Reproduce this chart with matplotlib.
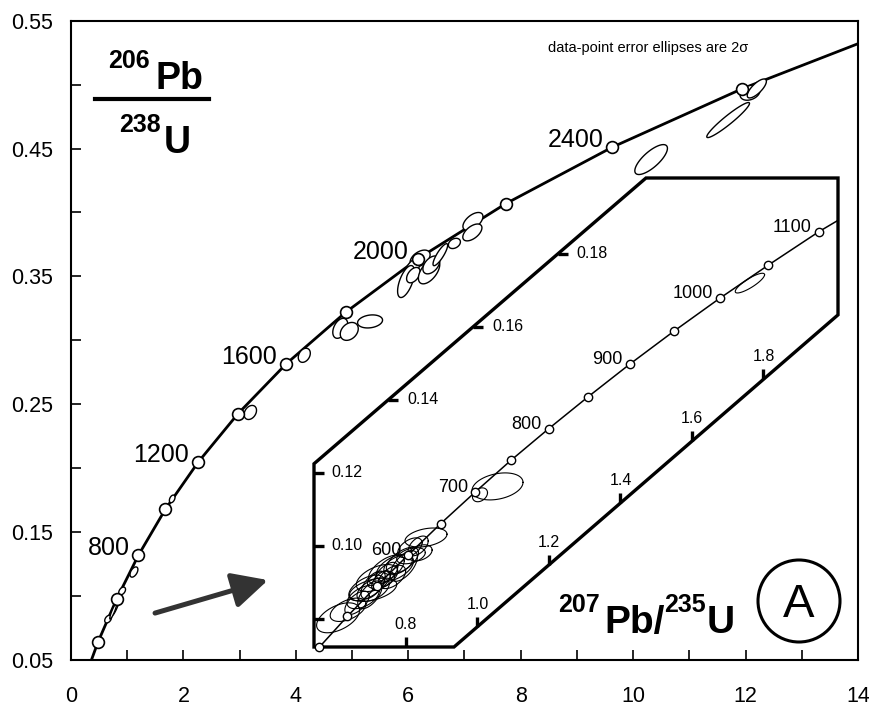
import matplotlib.pyplot as plt
import numpy as np
from matplotlib.lines import Line2D
from matplotlib.patches import Polygon, Ellipse

plt.rcParams['font.family'] = ['Liberation Sans', 'DejaVu Sans']

# ---- main panel: concordia (207Pb/235U, 206Pb/238U)
conc_x = [0.33, 0.48, 0.81, 1.20, 1.68, 2.26, 2.97, 3.83, 4.89, 6.17, 7.73, 9.63, 11.94, 14.0]
conc_y = [0.046, 0.064, 0.0975, 0.132, 0.168, 0.2046, 0.2426, 0.2817, 0.3221, 0.3638, 0.4068, 0.4511, 0.4968, 0.532]

# age markers every 200 Ma
mark_age = [400, 600, 800, 1000, 1200, 1400, 1600, 1800, 2000, 2200, 2400, 2600]
mark_x = [0.48, 0.81, 1.20, 1.68, 2.26, 2.97, 3.83, 4.89, 6.17, 7.73, 9.63, 11.94]
mark_y = [0.064, 0.0975, 0.132, 0.168, 0.2046, 0.2426, 0.2817, 0.3221, 0.3638, 0.4068, 0.4511, 0.4968]
label_ages = [800, 1200, 1600, 2000, 2400]

# 2 sigma error ellipses: centre, half-width, half-height, correlation
ell_x = [4.15, 4.79, 4.95, 5.32, 6.21, 6.07, 5.96, 6.09, 6.37, 6.41, 6.57, 6.82,
         7.15, 7.14, 10.32, 12.08, 12.20, 11.69, 1.12, 0.91, 0.66, 0.80, 0.75, 3.19, 1.80]
ell_y = [0.2883, 0.3094, 0.3070, 0.3148, 0.3640, 0.3560, 0.3460, 0.3510, 0.3540, 0.3590, 0.3670, 0.3758,
         0.3930, 0.3844, 0.4414, 0.4937, 0.4970, 0.4723, 0.1188, 0.1040, 0.0820, 0.0920, 0.0880, 0.2436, 0.1760]
ell_sx = [0.107, 0.133, 0.160, 0.222, 0.178, 0.133, 0.150, 0.120, 0.190, 0.150, 0.130, 0.107,
          0.178, 0.170, 0.290, 0.178, 0.170, 0.380, 0.070, 0.060, 0.060, 0.070, 0.060, 0.110, 0.050]
ell_sy = [0.0055, 0.0078, 0.0070, 0.0051, 0.0066, 0.0078, 0.0125, 0.0060, 0.0098, 0.0070, 0.0086, 0.0040,
          0.0070, 0.0066, 0.0117, 0.0059, 0.0074, 0.0137, 0.0040, 0.0030, 0.0030, 0.0070, 0.0060, 0.0055, 0.0030]
ell_rho = [0.3, 0.4, 0.3, 0.2, 0.45, 0.55, 0.6, 0.45, 0.55, 0.45, 0.85, 0.3,
           0.55, 0.55, 0.75, 0.3, 0.75, 0.95, 0.5, 0.4, 0.4, 0.9, 0.9, 0.3, 0.4]

# ---- inset: enlarged 450-1100 Ma part, markers every 50 Ma
in_age = [450, 500, 550, 600, 650, 700, 750, 800, 850, 900, 950, 1000, 1050, 1100]
in_x = [0.558, 0.636, 0.719, 0.806, 0.897, 0.993, 1.093, 1.199, 1.310, 1.426, 1.549, 1.677, 1.813, 1.955]
in_y = [0.0723, 0.0807, 0.0891, 0.0975, 0.1061, 0.1147, 0.1234, 0.1321, 0.1409, 0.1498, 0.1588, 0.1678, 0.1769, 0.1861]
in_end_x = 2.005
in_end_y = 0.189
in_label_ages = [600, 700, 800, 900, 1000, 1100]

in_ell_x = [1.056, 1.007, 0.856, 0.834, 0.839, 0.794, 0.769, 0.719, 0.708, 0.708, 0.680, 0.663,
            0.730, 0.761, 0.778, 0.814, 0.699, 0.708, 0.610, 0.638, 0.811, 0.730, 0.745, 1.762,
            0.745, 0.690, 0.790]
in_ell_y = [0.1163, 0.1140, 0.1023, 0.1000, 0.0981, 0.0945, 0.0940, 0.0912, 0.0893, 0.0880, 0.0860, 0.0844,
            0.0907, 0.0915, 0.0948, 0.0973, 0.0866, 0.0880, 0.0803, 0.0825, 0.0995, 0.0905, 0.0925, 0.1720,
            0.0935, 0.0885, 0.0960]
in_ell_sx = [0.0713, 0.021, 0.0587, 0.028, 0.034, 0.038, 0.052, 0.058, 0.034, 0.045, 0.045, 0.034,
             0.038, 0.038, 0.040, 0.040, 0.034, 0.066, 0.060, 0.050, 0.034, 0.026, 0.032, 0.041,
             0.050, 0.050, 0.045]
in_ell_sy = [0.0037, 0.0019, 0.0026, 0.0027, 0.0022, 0.0042, 0.0037, 0.0037, 0.0038, 0.0032, 0.0032, 0.0032,
             0.0024, 0.0032, 0.0027, 0.0022, 0.0038, 0.0032, 0.0041, 0.0032, 0.0027, 0.0027, 0.0030, 0.0027,
             0.0040, 0.0035, 0.0036]
in_ell_rho = [0.3, 0.3, 0.35, 0.5, 0.35, 0.6, 0.5, 0.5, 0.6, 0.5, 0.5, 0.6,
              0.4, 0.5, 0.5, 0.4, 0.6, 0.45, 0.5, 0.5, 0.5, 0.6, 0.6, 0.85,
              0.6, 0.55, 0.6]

# inset frame (hexagon) and tick values
hex_x = [0.5427, 0.5427, 1.4713, 2.0084, 2.0084, 0.9343]
hex_y = [0.0723, 0.1225, 0.2008, 0.2008, 0.1633, 0.0723]
in_left_ticks = [0.08, 0.10, 0.12]
in_left_labels = ['', '0.10', '0.12']
in_diag_yticks = [0.14, 0.16, 0.18]
in_bottom_ticks = [0.8]
in_diag_xticks = [1.0, 1.2, 1.4, 1.6, 1.8]


def ellipse_xy(x, y, sx, sy, rho):
    t = np.linspace(0, 2 * np.pi, 120)
    ex = x + sx * np.cos(t)
    ey = y + sy * (rho * np.cos(t) + np.sqrt(1 - rho ** 2) * np.sin(t))
    return ex, ey


W, H = 869, 706
fig = plt.figure(figsize=(W / 100, H / 100), dpi=100)

# main axes
ax = fig.add_axes([71 / W, 46 / H, 787 / W, 639.3 / H])
ax.set_xlim(0, 14)
ax.set_ylim(0.05, 0.55)
ax.set_xticks(range(0, 15, 2))
ax.set_xticks(range(1, 14, 2), minor=True)
yt = [0.05, 0.15, 0.25, 0.35, 0.45, 0.55]
ax.set_yticks(yt)
ax.set_yticklabels([f'{v:.2f}' for v in yt])
ax.set_yticks([0.10, 0.20, 0.30, 0.40, 0.50], minor=True)
ax.tick_params(which='both', direction='in', length=7, width=1.2, labelsize=15.5)
ax.tick_params(axis='x', pad=19)
ax.tick_params(axis='y', pad=13)
for s in ax.spines.values():
    s.set_linewidth(1.5)

ax.plot(conc_x, conc_y, color='black', lw=2.0, zorder=2, clip_on=True)

for x, y, sx, sy, r in zip(ell_x, ell_y, ell_sx, ell_sy, ell_rho):
    ex, ey = ellipse_xy(x, y, sx, sy, r)
    ax.fill(ex, ey, facecolor='white', edgecolor='black', lw=1.0, zorder=3)

ax.plot(mark_x, mark_y, 'o', ms=8.5, mfc='white', mec='black', mew=1.2, zorder=4)

for a, x, y in zip(mark_age, mark_x, mark_y):
    if a in label_ages:
        ax.annotate(str(a), (x, y), xytext=(-9, 0), textcoords='offset pixels',
                    ha='right', va='baseline', fontsize=18, zorder=5)

ax.annotate('', xy=(3.505, 0.1125), xytext=(1.495, 0.0867),
            arrowprops=dict(arrowstyle='-|>,head_length=0.8,head_width=0.4', mutation_scale=27,
                            lw=3.6, color='#333333', shrinkA=0, shrinkB=0))

# inset axes
axi = fig.add_axes([314 / W, (H - 647) / H, (838 - 314) / W, (647 - 178) / H])
axi.set_xlim(hex_x[0], hex_x[3])
axi.set_ylim(hex_y[0], hex_y[2])
axi.axis('off')
axi.patch.set_alpha(0)

axi.add_patch(Polygon(list(zip(hex_x, hex_y)), closed=True, facecolor='white',
                      edgecolor='black', lw=2.4, joinstyle='miter', clip_on=False, zorder=1))

axi.plot(in_x + [in_end_x], in_y + [in_end_y], color='black', lw=1.1, zorder=2, clip_on=False)

for x, y, sx, sy, r in zip(in_ell_x, in_ell_y, in_ell_sx, in_ell_sy, in_ell_rho):
    ex, ey = ellipse_xy(x, y, sx, sy, r)
    axi.plot(ex, ey, color='black', lw=0.8, zorder=3, clip_on=False)

axi.plot(in_x, in_y, 'o', ms=6, mfc='white', mec='black', mew=1.0, zorder=4, clip_on=False)

for a, x, y in zip(in_age, in_x, in_y):
    if a in in_label_ages:
        axi.annotate(str(a), (x, y), xytext=(-7, 0), textcoords='offset pixels',
                     ha='right', va='baseline', fontsize=13, zorder=5)

# inset ticks
tx = 10 / 357.5   # 10 px in inset x units
ty = 10 / 3650    # 10 px in inset y units
x0 = hex_x[0]
for v, lab in zip(in_left_ticks, in_left_labels):
    axi.plot([x0, x0 + tx], [v, v], color='black', lw=2.4, solid_capstyle='butt', clip_on=False)
    if lab:
        axi.annotate(lab, (x0 + tx, v), xytext=(7, 0), textcoords='offset pixels',
                     ha='left', va='center', fontsize=11.5)

slope_up = (hex_x[2] - hex_x[1]) / (hex_y[2] - hex_y[1])
for v in in_diag_yticks:
    xd = hex_x[1] + (v - hex_y[1]) * slope_up
    axi.plot([xd, xd + tx], [v, v], color='black', lw=2.4, solid_capstyle='butt', clip_on=False)
    axi.annotate(f'{v:.2f}', (xd + tx, v), xytext=(9, 0), textcoords='offset pixels',
                 ha='left', va='center', fontsize=11.5)

y0 = hex_y[0]
for v in in_bottom_ticks:
    axi.plot([v, v], [y0, y0 + ty], color='black', lw=2.4, solid_capstyle='butt', clip_on=False)
    axi.annotate(f'{v:.1f}', (v, y0 + ty), xytext=(0, 5), textcoords='offset pixels',
                 ha='center', va='bottom', fontsize=11.5)

slope_lo = (hex_y[4] - hex_y[5]) / (hex_x[4] - hex_x[5])
for v in in_diag_xticks:
    yd = hex_y[5] + (v - hex_x[5]) * slope_lo
    axi.plot([v, v], [yd, yd + ty], color='black', lw=2.4, solid_capstyle='butt', clip_on=False)
    axi.annotate(f'{v:.1f}', (v, yd + ty), xytext=(0, 5), textcoords='offset pixels',
                 ha='center', va='bottom', fontsize=11.5)


# figure texts (pixel positions converted to figure fraction)
def fx(px):
    return px / W


def fy(py):
    return 1 - py / H


fig.text(fx(548), fy(52), 'data-point error ellipses are 2\u03c3', fontsize=10.5, va='baseline')

# 206Pb / 238U fraction
fig.text(fx(108), fy(68), '206', fontsize=18, fontweight='bold', va='baseline')
fig.text(fx(155), fy(89), 'Pb', fontsize=27, fontweight='bold', va='baseline')
fig.add_artist(Line2D([fx(95), fx(209)], [fy(99), fy(99)], color='black', lw=3))
fig.text(fx(119), fy(132), '238', fontsize=18, fontweight='bold', va='baseline')
fig.text(fx(164), fy(153), 'U', fontsize=27, fontweight='bold', va='baseline')

# 207Pb/235U
fig.text(fx(558), fy(612), '207', fontsize=18, fontweight='bold', va='baseline')
fig.text(fx(604), fy(633), 'Pb/', fontsize=28, fontweight='bold', va='baseline')
fig.text(fx(664), fy(612), '235', fontsize=18, fontweight='bold', va='baseline')
fig.text(fx(707), fy(633), 'U', fontsize=28, fontweight='bold', va='baseline')

# circled A
fig.add_artist(Ellipse((fx(799), fy(601)), 82 / W, 82 / H, transform=fig.transFigure,
                       facecolor='none', edgecolor='black', lw=2.2))
fig.text(fx(799), fy(617), 'A', fontsize=34, ha='center', va='baseline')

fig.savefig('out.png', dpi=100)
